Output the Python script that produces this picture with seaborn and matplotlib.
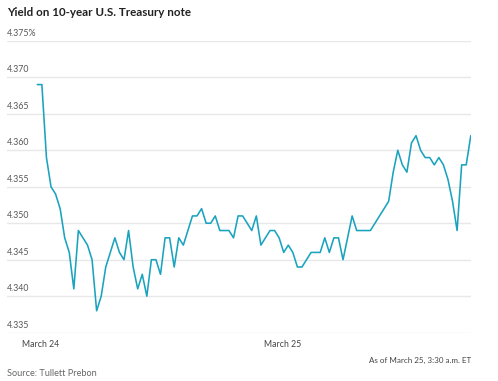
import numpy as np
import pandas as pd
import matplotlib
matplotlib.use("Agg")
import matplotlib.pyplot as plt
import matplotlib.transforms as mtransforms
import seaborn as sns

sns.set_style("white")
plt.rcParams["font.family"] = ["Lato", "DejaVu Sans"]

# =========================
# DATA
# =========================
yields = [
    4.369, 4.369, 4.359, 4.355, 4.354, 4.352, 4.348, 4.346, 4.341, 4.349,
    4.348, 4.347, 4.345, 4.338, 4.340, 4.344, 4.346, 4.348, 4.346, 4.345,
    4.349, 4.344, 4.341, 4.343, 4.340, 4.345, 4.345, 4.343, 4.348, 4.348,
    4.344, 4.348, 4.347, 4.349, 4.351, 4.351, 4.352, 4.350, 4.350, 4.351,
    4.349, 4.349, 4.349, 4.348, 4.351, 4.351, 4.350, 4.349, 4.351, 4.347,
    4.348, 4.349, 4.349, 4.348, 4.346, 4.347, 4.346, 4.344, 4.344, 4.345,
    4.346, 4.346, 4.346, 4.348, 4.346, 4.348, 4.348, 4.345, 4.348, 4.351,
    4.349, 4.349, 4.349, 4.349, 4.350, 4.351, 4.352, 4.353, 4.357, 4.360,
    4.358, 4.357, 4.361, 4.362, 4.360, 4.359, 4.359, 4.358, 4.359, 4.358,
    4.356, 4.353, 4.349, 4.358, 4.358, 4.362,
]
y_ticks = [4.335, 4.340, 4.345, 4.350, 4.355, 4.360, 4.365, 4.370, 4.375]
y_labels = ["4.335", "4.340", "4.345", "4.350", "4.355", "4.360", "4.365", "4.370", "4.375%"]
x_ticks = [0.75, 1.7, 5.7, 17.75, 29.8, 41.85, 53.8, 64.9, 76.8, 88.9]
x_labels = ["March 24", "", "", "", "", "", "March 25", "", "", ""]

df = pd.DataFrame({"step": np.arange(len(yields)), "yield": yields})

# =========================
# PLOT
# =========================
fig = plt.figure(figsize=(4.98, 3.81), dpi=100)
ax = fig.add_axes([0.0141, 0.1268, 0.9317, 0.7661])

sns.lineplot(data=df, x="step", y="yield", ax=ax, color="#1aa3be", linewidth=1.15)

ax.set_xlim(-6.64, 95.05)
ax.set_ylim(4.335, 4.375)
for s in ax.spines.values():
    s.set_visible(False)

ax.set_yticks(y_ticks)
ax.set_yticklabels([])
ax.tick_params(axis="y", length=0)
ax.yaxis.grid(True, color="#e8e8e8", linewidth=1.0)
ax.set_axisbelow(True)

ax.set_xticks(x_ticks)
ax.set_xticklabels(x_labels)
ax.tick_params(axis="x", length=2.5, width=0.8, color="#b0b0b0", direction="out",
               pad=3, labelsize=6.3, labelcolor="#444444")
ax.set_xlabel("")
ax.set_ylabel("")

# y labels sit above their gridlines at the left edge
trans = mtransforms.blended_transform_factory(ax.transAxes, ax.transData)
for v, lab in zip(y_ticks, y_labels):
    ax.text(0.0, v + 0.0004, lab, transform=trans, ha="left", va="bottom",
            fontsize=6.3, color="#555555")

fig.text(0.0141, 1 - 15.5 / 381, "Yield on 10-year U.S. Treasury note",
         fontsize=8.4, fontweight="bold", color="#222222", ha="left", va="baseline")
fig.text(0.9458, 1 - 363 / 381, "As of March 25, 3:30 a.m. ET",
         fontsize=5.8, color="#444444", ha="right", va="baseline")
fig.text(0.0141, 1 - 376.5 / 381, "Source: Tullett Prebon",
         fontsize=6.6, color="#666666", ha="left", va="baseline")

fig.savefig("out.png", dpi=100)
